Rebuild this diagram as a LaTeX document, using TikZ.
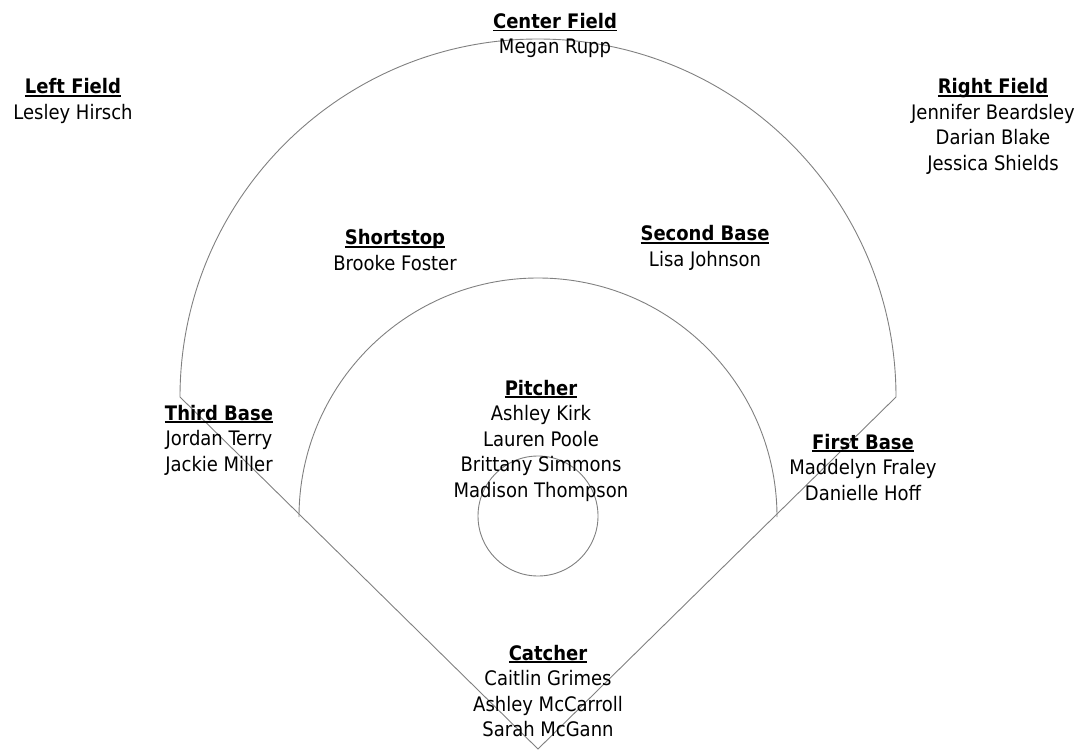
\documentclass[tikz,border=0pt]{standalone}
\usepackage{fontspec}
\setmainfont{DejaVu Sans Condensed}
\newcommand\hd[1]{\setbox0\hbox{\bfseries #1}\rlap{\rule[-2.8pt]{\wd0}{1.4pt}}\box0}
\begin{document}
\begin{tikzpicture}[x=1pt,y=-1pt,
  field/.style={draw=black!50,line width=0.9pt},
  roster/.style={anchor=base,align=center,inner sep=0pt,font=\fontsize{20}{25.5}\selectfont}]
\useasboundingbox (0,0) rectangle (1084,751);
\coordinate (home) at (538,749);
\coordinate (thirdC) at (180,397);
\coordinate (firstC) at (896,397);
\draw[field] (home) -- (thirdC) arc[start angle=180,end angle=360,radius=358] -- cycle;
\draw[field] (299,517) arc[start angle=180,end angle=360,radius=239];
\draw[field] (538,516) circle[radius=60];
% anchor=base is the baseline of the last line
\node[roster] (cf) at (555,54) {\hd{Center Field}\\Megan Rupp};
\node[roster] (lf) at (73,119.5) {\hd{Left Field}\\Lesley Hirsch};
\node[roster] (rf) at (993,170.5) {\hd{Right Field}\\Jennifer Beardsley\\Darian Blake\\Jessica Shields};
\node[roster] (ss) at (395,270.5) {\hd{Shortstop}\\Brooke Foster};
\node[roster] (sb) at (705,266.5) {\hd{Second Base}\\Lisa Johnson};
\node[roster] (p) at (541,497) {\hd{Pitcher}\\Ashley Kirk\\Lauren Poole\\Brittany Simmons\\Madison Thompson};
\node[roster] (tb) at (219,471) {\hd{Third Base}\\Jordan Terry\\Jackie Miller};
\node[roster] (fb) at (863,500) {\hd{First Base}\\Maddelyn Fraley\\Danielle Hoff};
\node[roster] (c) at (548,736.5) {\hd{Catcher}\\Caitlin Grimes\\Ashley McCarroll\\Sarah McGann};
\end{tikzpicture}
\end{document}
